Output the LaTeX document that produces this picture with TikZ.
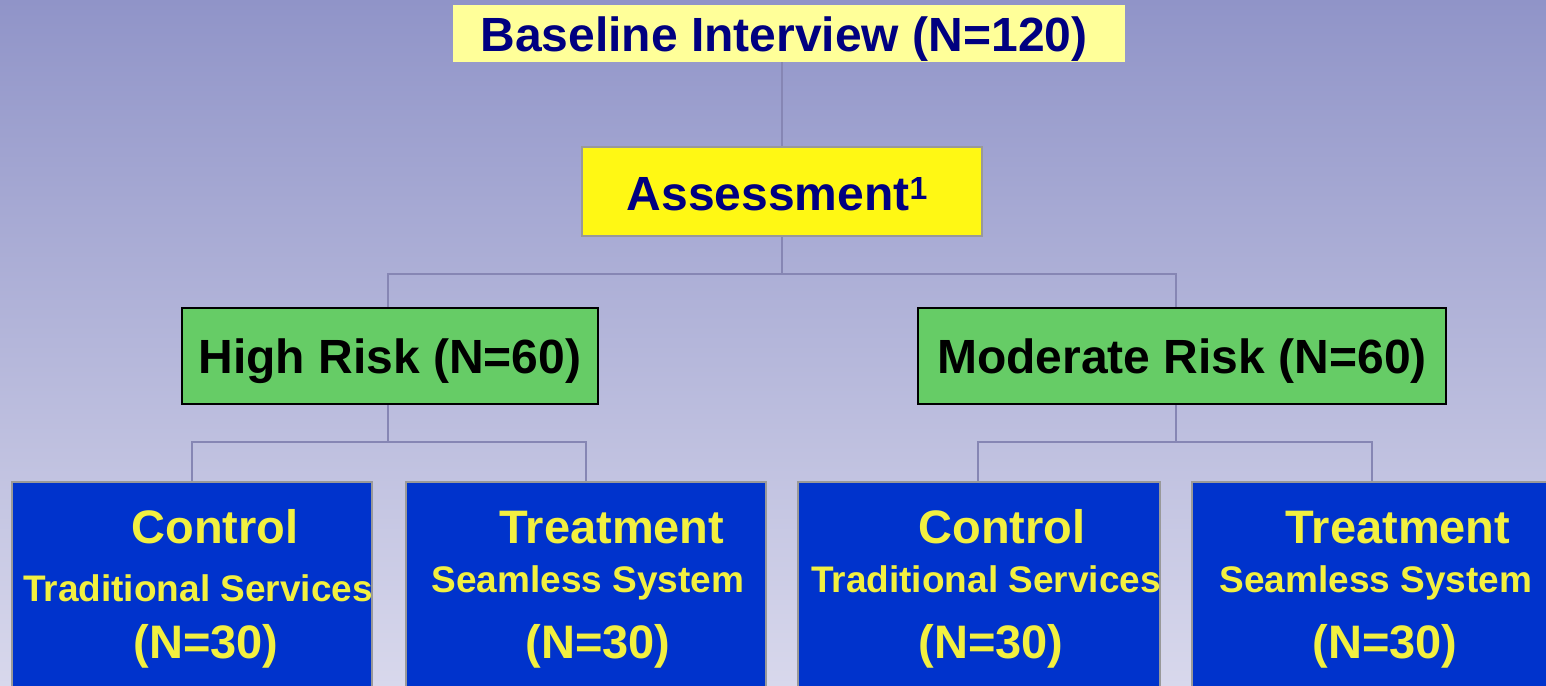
\documentclass[tikz,border=0pt]{standalone}
\usepackage{fontspec}
\setmainfont{Liberation Sans}
\usepackage{tikz}
\usetikzlibrary{positioning}
\usepackage{xcolor}
\definecolor{bgtop}{RGB}{144,148,200}
\definecolor{bgbot}{RGB}{216,216,236}
\definecolor{lnpurple}{RGB}{134,134,180}
\definecolor{navytxt}{RGB}{0,0,128}
\definecolor{paleyel}{RGB}{255,255,153}
\definecolor{brightyel}{RGB}{255,248,20}
\definecolor{riskgreen}{RGB}{102,204,102}
\definecolor{armblue}{RGB}{0,51,204}
\definecolor{armtxt}{RGB}{242,240,64}
\tikzstyle{link} = [line width=2,color=lnpurple]
\tikzstyle{topbox} = [rectangle,inner sep=0,text height=34,text depth=0,font=\fontsize{48}{56}\selectfont\bfseries]
\tikzstyle{riskbox} = [topbox,fill=riskgreen,draw=black,line width=2]
\tikzstyle{armbox} = [rectangle,inner sep=0,fill=armblue,draw=gray!80,line width=2.5,minimum width=360,minimum height=250]
\tikzstyle{armbig} = [anchor=base,color=armtxt,font=\fontsize{47}{56}\selectfont\bfseries]
\tikzstyle{armsmall} = [anchor=base,color=armtxt,font=\fontsize{37}{44}\selectfont\bfseries]

\begin{document}
\begin{tikzpicture}[x=1pt,y=-1pt]
% Background
\useasboundingbox (0,0) rectangle (1546,685);
\clip (0,0) rectangle (1546,685);
\shade[top color=bgtop, bottom color=bgbot] (0,0) rectangle (1546,685);

% Top of the tree
\node[topbox, fill=paleyel, text=navytxt, minimum width=672, minimum height=57, text height=36] (base) at (789,33.5) {Baseline Interview (N=120)\kern10pt};
\node[topbox, fill=brightyel, draw=gray!80, line width=2.5, text=navytxt, minimum width=400, minimum height=89, text height=37] (assess) at (782,191.5) {Assessment\raisebox{11pt}{\fontsize{32}{34}\selectfont 1}\kern10pt};

% Risk groups
\node[riskbox, minimum width=416, minimum height=96] (high) at (390,356) {High Risk (N=60)};
\node[riskbox, minimum width=528, minimum height=96] (moder) at (1182,356) {Moderate Risk (N=60)};

% Study arms
\node[armbox] (arm1) at (192,607) {};
\node[armbox] (arm2) at (586,607) {};
\node[armbox, minimum width=362] (arm3) at (979,607) {};
\node[armbox] (arm4) at (1372,607) {};

\node[armbig] (arm1a) at (215,543) {Control};
\node[armsmall] (arm1b) at (198,601) {Traditional Services};
\node[armbig] (arm1c) at (206,658) {(N=30)};
\node[armbig] (arm2a) at (612,543) {Treatment};
\node[armsmall] (arm2b) at (588,592) {Seamless System};
\node[armbig] (arm2c) at (598,658) {(N=30)};
\node[armbig] (arm3a) at (1002,543) {Control};
\node[armsmall] (arm3b) at (986,592) {Traditional Services};
\node[armbig] (arm3c) at (991,658) {(N=30)};
\node[armbig] (arm4a) at (1398,543) {Treatment};
\node[armsmall] (arm4b) at (1376,592) {Seamless System};
\node[armbig] (arm4c) at (1385,658) {(N=30)};

% Connectors
\draw[link] (base.south -| assess.north) -- (assess.north);
\draw[link] (assess.south) -- ++(0,37) -| ([xshift=-2]high.north);
\draw[link] (assess.south) -- ++(0,37) -| ([xshift=-6]moder.north);
\draw[link] ([xshift=-2]high.south) -- ++(0,37) -| (arm1.north);
\draw[link] ([xshift=-2]high.south) -- ++(0,37) -| (arm2.north);
\draw[link] ([xshift=-6]moder.south) -- ++(0,37) -| ([xshift=-1]arm3.north);
\draw[link] ([xshift=-6]moder.south) -- ++(0,37) -| (arm4.north);
\end{tikzpicture}
\end{document}
